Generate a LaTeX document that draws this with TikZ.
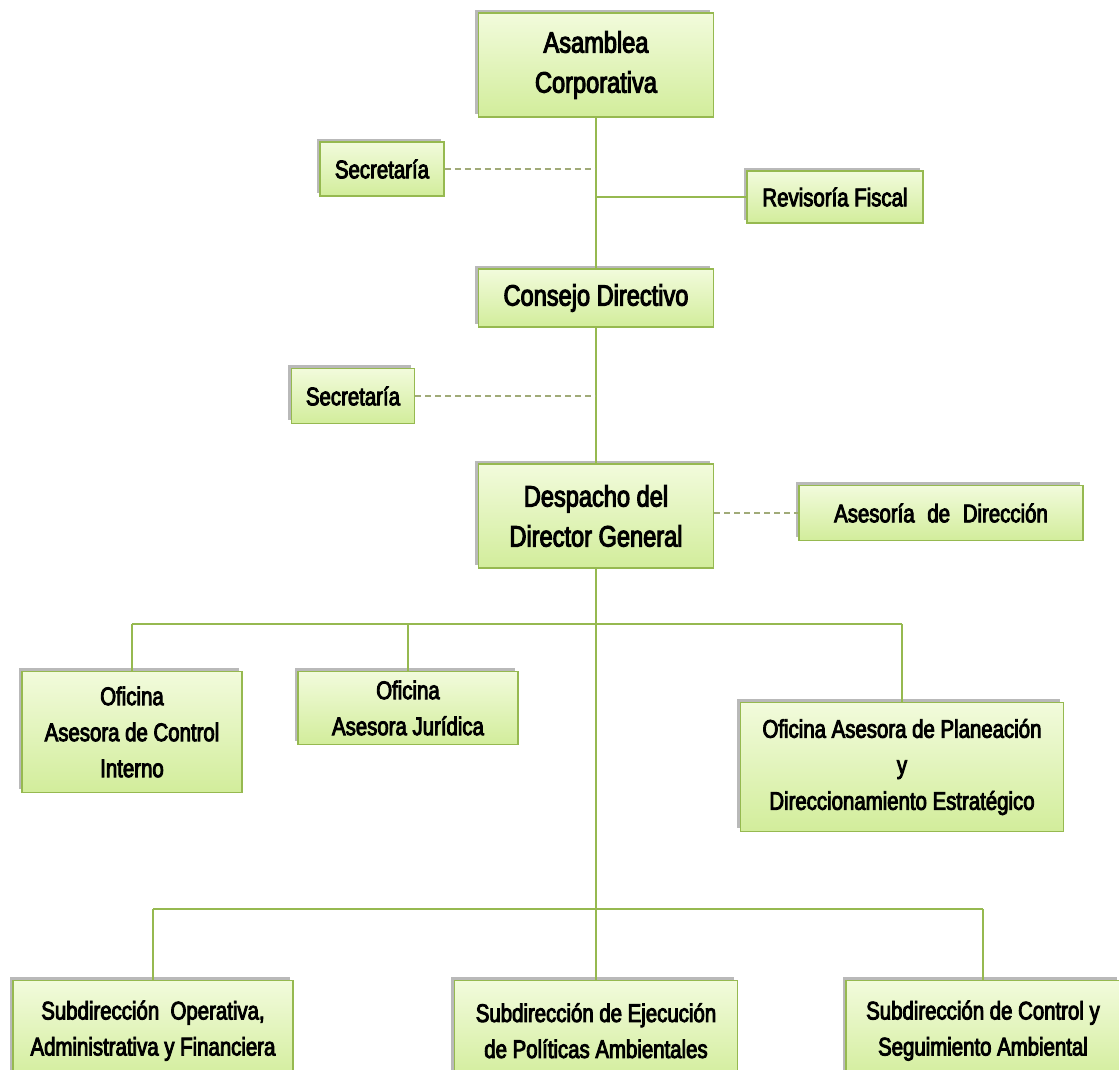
\documentclass[tikz,border=0pt]{standalone}
\usepackage{fontspec}
\setmainfont{Liberation Sans}[FakeStretch=0.8, FakeBold=3.5]
\usetikzlibrary{positioning, shadows, calc}

\definecolor{bordeverde}{RGB}{150,185,80}
\definecolor{rellenoarriba}{RGB}{242,251,220}
\definecolor{rellenoabajo}{RGB}{210,237,155}
\definecolor{guiones}{RGB}{160,170,120}

\begin{document}
\begin{tikzpicture}[x=1pt, y=-1pt]
		% Estilos de las cajas y conectores
		\tikzset{
			caja/.style={
					rectangle, draw=bordeverde, line width=1.4pt,
					top color=rellenoarriba, bottom color=rellenoabajo,
					align=center, inner sep=0pt, text=black,
					drop shadow={shadow xshift=-3.5pt, shadow yshift=3.5pt, opacity=.5, fill=black!55},
					font=\fontsize{25.5}{36}\selectfont
				},
			grande/.style={
					caja, font=\fontsize{29.5}{40}\selectfont
				},
			linea/.style={
					draw=bordeverde, line width=1.8pt
				},
			punteada/.style={
					draw=guiones, line width=2.2pt, dash pattern=on 6pt off 4pt
				}
		}
		\useasboundingbox (0,0) rectangle (1119,1069);

		% Cuerpo directivo
		\node[grande, minimum width=235pt, minimum height=104pt] (asamblea) at (596,65) {Asamblea\\Corporativa};
		\node[caja, minimum width=124pt, minimum height=54pt] (secuno) at (382,169) {Secretaría};
		\node[caja, minimum width=176pt, minimum height=52pt] (revisoria) at (835,197) {Revisoría Fiscal};
		\node[grande, minimum width=235pt, minimum height=58pt] (consejo) at (596,298) {Consejo Directivo};
		\node[caja, minimum width=123pt, minimum height=55pt] (secdos) at (353,396) {Secretaría};
		\node[grande, minimum width=235pt, minimum height=104pt] (despacho) at (596,516) {Despacho del\\Director General};
		\node[caja, minimum width=284pt, minimum height=55pt] (asesoria) at (941,513) {Asesoría\hspace{0.5em}de\hspace{0.5em}Dirección};

		% Oficinas asesoras
		\node[caja, minimum width=220pt, minimum height=121pt] (interno) at (132,732) {Oficina\\Asesora de Control\\Interno};
		\node[caja, minimum width=220pt, minimum height=73pt] (juridica) at (408,708) {Oficina\\Asesora Jurídica};
		\node[caja, minimum width=323pt, minimum height=129pt] (planeacion) at (902,767) {Oficina Asesora de Planeación\\y\\Direccionamiento Estratégico};

		% Subdirecciones
		\node[caja, minimum width=280pt, minimum height=100pt, anchor=north] (operativa) at (153,980) {Subdirección\ \ Operativa,\\Administrativa y Financiera};
		\node[caja, minimum width=283pt, minimum height=100pt, anchor=north] (ejecucion) at (596,980) {Subdirección de Ejecución\\de Políticas Ambientales};
		\node[caja, minimum width=274pt, minimum height=100pt, anchor=north] (seguimiento) at (983,980) {Subdirección de Control y\\Seguimiento Ambiental};

		\coordinate (busuno) at (0,624);
		\coordinate (busdos) at (0,909);

		% Tronco principal
		\draw[linea] (asamblea.south) -- (consejo.north);
		\draw[linea] (consejo.south) -- (despacho.north);
		\draw[linea] (despacho.south) -- (ejecucion.north);
		\draw[linea] (revisoria.west) -- (revisoria.west -| asamblea.south);

		% Lineas de apoyo
		\draw[punteada] (secuno.east) -- (secuno.east -| asamblea.south);
		\draw[punteada] (secdos.east) -- (secdos.east -| consejo.south);
		\draw[punteada] (asesoria.west -| despacho.east) -- (asesoria.west);

		% Ramas
		\draw[linea] (interno.north |- busuno) -- (planeacion.north |- busuno);
		\foreach \hijo in {interno, juridica, planeacion} {
				\draw[linea] (\hijo.north |- busuno) -- (\hijo.north);
			}
		\draw[linea] (operativa.north |- busdos) -- (seguimiento.north |- busdos);
		\foreach \hijo in {operativa, seguimiento} {
				\draw[linea] (\hijo.north |- busdos) -- (\hijo.north);
			}
	\end{tikzpicture}
\end{document}
